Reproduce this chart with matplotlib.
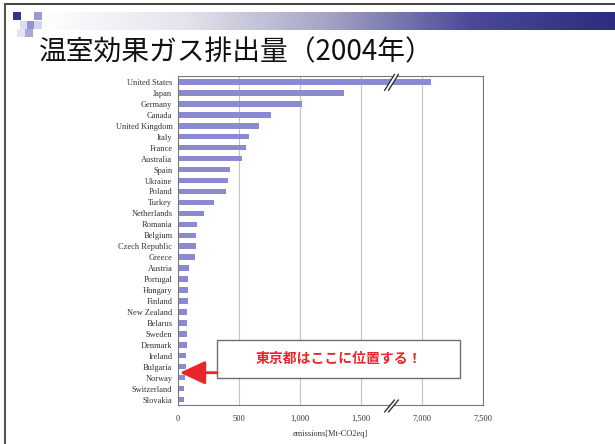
import numpy as np
import matplotlib.pyplot as plt
from matplotlib.patches import Rectangle, Polygon
from matplotlib.lines import Line2D
from matplotlib.colors import LinearSegmentedColormap

# データ (2004年, Mt-CO2eq)
countries = ["United States", "Japan", "Germany", "Canada", "United Kingdom",
             "Italy", "France", "Australia", "Spain", "Ukraine", "Poland",
             "Turkey", "Netherlands", "Romania", "Belgium", "Czech Republic",
             "Greece", "Austria", "Portugal", "Hungary", "Finland",
             "New Zealand", "Belarus", "Sweden", "Denmark", "Ireland",
             "Bulgaria", "Norway", "Switzerland", "Slovakia"]
emissions = [7070, 1357, 1015, 760, 664, 579, 559, 524, 428, 411, 390, 291,
             214, 154, 148, 150, 137, 88, 83, 83, 83, 77, 72, 72, 72, 66,
             66, 55, 50, 50]
tick_values = [0, 500, 1000, 1500, 7000, 7500]
break_lo, break_hi = 1750, 6750   # 軸の省略区間
tokyo_rank = 26.55                # Bulgaria と Norway の間

title = "温室効果ガス排出量（2004年）"
note = "東京都はここに位置する！"

W, H = 615, 444
bar_color = "#8a8ad0"
red = "#e8262a"
serif = "Liberation Serif"
jp = ["Noto Sans CJK JP", "DejaVu Sans"]


def squash(v):
    v = np.asarray(v, dtype=float)
    return np.where(v <= break_lo, v, v - (break_hi - break_lo))


fig = plt.figure(figsize=(W / 100, H / 100), dpi=100)

# --- 見出しの飾り ---
band = fig.add_axes([40 / W, 1 - 30 / H, 575 / W, 18 / H])
cmap = LinearSegmentedColormap.from_list(
    "hdr", [(0, "#ffffff"), (0.25, "#e4e4ee"), (0.5, "#a4a4c4"),
            (0.75, "#4a4a98"), (1, "#2c2c80")])
band.imshow(np.linspace(0, 1, 256)[None, :], aspect="auto", cmap=cmap)
band.axis("off")

squares = [(13, 12, "#34348a"), (34, 12, "#9a9ad4"), (20, 21, "#dcdcf2"),
           (27, 21, "#9494cc"), (34, 21, "#d4d4ee"), (25, 29, "#a8a8dc"),
           (17, 29, "#e4e4f4")]
for sx, sy, c in squares:
    fig.add_artist(Rectangle((sx / W, 1 - (sy + 8) / H), 8 / W, 8 / H,
                             transform=fig.transFigure, color=c, lw=0))

fig.add_artist(Line2D([5 / W, 1], [1 - 4 / H, 1 - 4 / H],
                      transform=fig.transFigure, color="#222222", lw=1.2))
fig.add_artist(Line2D([5 / W, 5 / W], [0, 1 - 4 / H],
                      transform=fig.transFigure, color="#555555", lw=1.5))

fig.text(39 / W, 1 - 52 / H, title, fontsize=20, family=jp,
         ha="left", va="center", color="#111111")

# --- グラフ本体 ---
ax = fig.add_axes([178 / W, 1 - 405 / H, 305 / W, 328.5 / H])
y = np.arange(len(countries))
ax.barh(y, squash(emissions), height=0.5, color=bar_color, zorder=2)
ax.set_ylim(len(countries) - 0.5, -0.5)
ax.set_xlim(0, squash(7500))
ax.set_yticks(y, countries)
ax.set_xticks(squash(tick_values), [f"{v:,}" for v in tick_values])
ax.grid(axis="x", color="#c4c4c4", lw=0.8)
ax.set_axisbelow(True)
ax.tick_params(length=0, labelsize=6, colors="#333333")
ax.tick_params(axis="y", pad=4)
ax.tick_params(axis="x", pad=7)
for lab in ax.get_xticklabels() + ax.get_yticklabels():
    lab.set_family(serif)
for s in ax.spines.values():
    s.set_color("#777777")
    s.set_linewidth(0.8)
ax.set_xlabel("emissions[Mt-CO2eq]", fontsize=6, family=serif,
              color="#333333", labelpad=5)

# 省略記号 //
xb = squash(break_lo)
tr = ax.get_xaxis_transform()
for yc, hh in [(0.982, 0.024), (-0.003, 0.018)]:
    dx, off = 40, 16
    left = [(xb - dx - off, yc - hh), (xb + dx - off, yc + hh)]
    right = [(xb - dx + off, yc - hh), (xb + dx + off, yc + hh)]
    ax.add_patch(Polygon(left + right[::-1], closed=True, transform=tr,
                         facecolor="white", edgecolor="none", zorder=6,
                         clip_on=False))
    for seg in (left, right):
        ax.add_line(Line2D([p[0] for p in seg], [p[1] for p in seg],
                           transform=tr, color="#333333", lw=1.0,
                           zorder=7, clip_on=False))

# 注記
ax.add_patch(Rectangle((320, 23.56), 1990, 3.47, facecolor="white",
                       edgecolor="#6e6e6e", lw=1.0, zorder=8))
ax.text(1315, 25.3, note, color=red, fontsize=10, fontweight="bold",
        family=jp, ha="center", va="center", zorder=9)
ax.annotate("", xy=(15, tokyo_rank), xytext=(320, tokyo_rank),
            arrowprops=dict(arrowstyle="-|>,head_length=1.3,head_width=0.6",
                            color=red, lw=2, mutation_scale=12,
                            shrinkA=0, shrinkB=0),
            zorder=9, annotation_clip=False)

fig.savefig("out.png", dpi=100)
